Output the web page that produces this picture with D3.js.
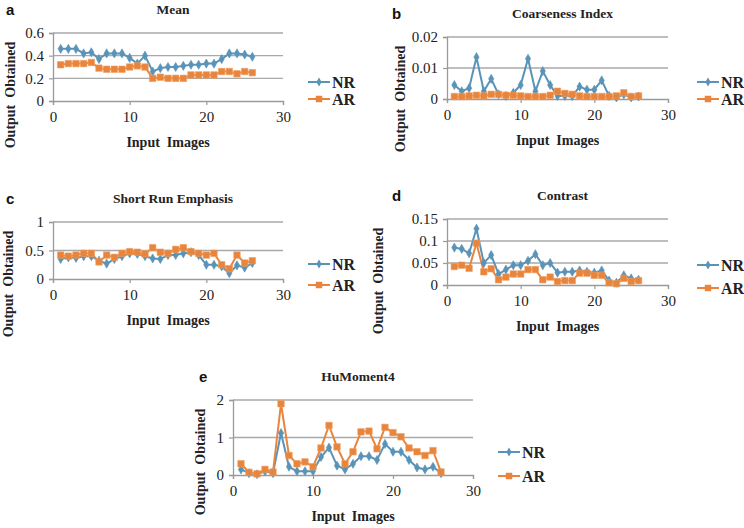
<!DOCTYPE html>
<html><head><meta charset="utf-8">
<script src="https://cdn.jsdelivr.net/npm/d3@7"></script>
<style>body{margin:0;background:#fff}svg{display:block}</style>
</head><body>
<svg id="chart" width="744" height="528"></svg>
<script>
const images = d3.range(1, 27);
const xTicks = [0, 10, 20, 30];

const meanNR = [0.46,0.46,0.46,0.42,0.43,0.37,0.42,0.42,0.42,0.38,0.33,0.40,0.26,0.29,0.30,0.30,0.31,0.32,0.32,0.33,0.33,0.37,0.42,0.42,0.41,0.39];
const meanAR = [0.32,0.33,0.33,0.33,0.34,0.29,0.28,0.28,0.28,0.30,0.31,0.30,0.20,0.21,0.20,0.20,0.20,0.23,0.23,0.23,0.23,0.26,0.26,0.24,0.26,0.25];
const meanTicks = [0, 0.2, 0.4, 0.6];

const coarseNR = [0.0045,0.0025,0.0035,0.0135,0.0025,0.0065,0.0015,0.001,0.002,0.0045,0.013,0.0025,0.009,0.0045,0.001,0.001,0.001,0.004,0.003,0.003,0.006,0.001,0.0005,0.0015,0.0005,0.0008];
const coarseAR = [0.0008,0.0008,0.001,0.0012,0.001,0.0015,0.0015,0.0012,0.0012,0.001,0.0008,0.0008,0.0008,0.0012,0.0025,0.0018,0.0015,0.001,0.0008,0.0008,0.0008,0.0008,0.001,0.002,0.0008,0.001];
const coarseTicks = [0, 0.01, 0.02];

const sreNR = [0.35,0.38,0.37,0.40,0.40,0.32,0.27,0.35,0.40,0.45,0.44,0.40,0.36,0.35,0.42,0.42,0.45,0.47,0.42,0.25,0.25,0.22,0.10,0.24,0.20,0.28];
const sreAR = [0.42,0.40,0.42,0.45,0.45,0.30,0.42,0.38,0.45,0.48,0.47,0.44,0.55,0.47,0.45,0.52,0.55,0.48,0.45,0.42,0.45,0.25,0.18,0.42,0.28,0.32];
const sreTicks = [0, 0.5, 1];

const contrastNR = [0.085,0.082,0.072,0.128,0.05,0.068,0.025,0.035,0.045,0.045,0.055,0.07,0.045,0.05,0.028,0.03,0.03,0.033,0.03,0.028,0.033,0.01,0.005,0.022,0.015,0.012];
const contrastAR = [0.042,0.045,0.038,0.095,0.03,0.037,0.012,0.018,0.025,0.025,0.035,0.035,0.012,0.018,0.008,0.01,0.01,0.027,0.027,0.022,0.022,0.005,0.003,0.015,0.008,0.01];
const contrastTicks = [0, 0.05, 0.1, 0.15];

const huNR = [0.15,0.05,0.02,0.10,0.05,1.12,0.22,0.10,0.10,0.10,0.48,0.73,0.25,0.15,0.30,0.50,0.50,0.40,0.83,0.62,0.62,0.40,0.20,0.15,0.22,0.05];
const huAR = [0.30,0.07,0.03,0.15,0.08,1.90,0.52,0.30,0.35,0.22,0.72,1.32,0.75,0.30,0.62,1.15,1.17,0.70,1.27,1.13,1.02,0.72,0.62,0.52,0.65,0.08];
const huTicks = [0, 1, 2];

const seriesNames = ["NR", "AR"];
const colors = {NR: "#5a93b8", AR: "#e8843c"};

const panels = [
  {letter:"a", title:"Mean", nr:meanNR, ar:meanAR, ticks:meanTicks,
   L:53, R:283, T:33, B:101, letterX:6, ylabX:10, legX:308, legY:[82,99]},
  {letter:"b", title:"Coarseness Index", nr:coarseNR, ar:coarseAR, ticks:coarseTicks,
   L:447, R:668, T:37, B:99, letterX:392, ylabX:400, legX:697, legY:[82,99]},
  {letter:"c", title:"Short Run Emphasis", nr:sreNR, ar:sreAR, ticks:sreTicks,
   L:53, R:283, T:222, B:279, letterX:6, ylabX:8, legX:308, legY:[264,285]},
  {letter:"d", title:"Contrast", nr:contrastNR, ar:contrastAR, ticks:contrastTicks,
   L:447, R:668, T:219, B:285, letterX:392, ylabX:378, legX:697, legY:[265,288]},
  {letter:"e", title:"HuMoment4", nr:huNR, ar:huAR, ticks:huTicks,
   L:233, R:473, T:400, B:475, letterX:199, ylabX:200, legX:498, legY:[452,476]}
];

const svg = d3.select("#chart");
const serif = "'Liberation Serif', 'Times New Roman', serif";

panels.forEach(p => {
  const g = svg.append("g");
  const x = d3.scaleLinear().domain([0, 30]).range([p.L, p.R]);
  const y = d3.scaleLinear().domain([0, d3.max(p.ticks)]).range([p.B, p.T]);

  // gridlines
  g.append("g").selectAll("line").data(p.ticks.slice(1)).join("line")
    .attr("x1", p.L).attr("x2", p.R).attr("y1", d => y(d)).attr("y2", d => y(d))
    .attr("stroke", "#a9a9a9").attr("stroke-width", 1.3);

  // axes
  const xa = g.append("g").attr("transform", `translate(0,${p.B})`)
    .call(d3.axisBottom(x).tickValues(xTicks).tickSize(4).tickPadding(6).tickFormat(d3.format("d")));
  const ya = g.append("g").attr("transform", `translate(${p.L},0)`)
    .call(d3.axisLeft(y).tickValues(p.ticks).tickSize(4).tickPadding(5).tickFormat(d => d === 0 ? "0" : String(+d.toFixed(3))));
  [xa, ya].forEach(a => {
    a.select(".domain").attr("stroke", "#9a9a9a").attr("stroke-width", 1.3);
    a.selectAll(".tick line").attr("stroke", "#9a9a9a").attr("stroke-width", 1.2);
    a.selectAll("text").attr("font-family", serif).attr("font-size", 15).attr("fill", "#222");
  });

  // title and letter
  g.append("text").attr("x", (p.L + p.R) / 2 + 5).attr("y", p.T - 19)
    .attr("text-anchor", "middle").attr("font-family", serif).attr("font-weight", "bold")
    .attr("font-size", 13.5).attr("fill", "#222").text(p.title);
  g.append("text").attr("x", p.letterX).attr("y", p.T - 18)
    .attr("font-family", "'Liberation Sans', Arial, sans-serif").attr("font-weight", "bold")
    .attr("font-size", 15).attr("fill", "#111").text(p.letter);

  // axis titles
  g.append("text").attr("x", (p.L + p.R) / 2).attr("y", p.B + 46)
    .attr("text-anchor", "middle").attr("font-family", serif).attr("font-weight", "bold")
    .attr("font-size", 14).attr("fill", "#222").attr("xml:space", "preserve").text("Input  Images");
  g.append("text").attr("transform", `translate(${p.ylabX + 5},${p.T + 62}) rotate(-90)`)
    .attr("text-anchor", "middle").attr("font-family", serif).attr("font-weight", "bold")
    .attr("font-size", 14).attr("fill", "#222").attr("xml:space", "preserve").text("Output  Obtained");

  // series
  const line = d3.line().x((d, i) => x(images[i])).y(d => y(d));
  const data = {NR: p.nr, AR: p.ar};
  ["NR", "AR"].forEach(name => {
    const vals = data[name];
    g.append("path").datum(vals).attr("d", line).attr("fill", "none")
      .attr("stroke", colors[name]).attr("stroke-width", 2);
  });
  // markers: draw AR squares then NR diamonds? keep order of series
  ["NR", "AR"].forEach(name => {
    const vals = data[name];
    const sym = name === "NR" ? d3.symbol(d3.symbolDiamond, 24) : d3.symbol(d3.symbolSquare, 42);
    g.append("g").selectAll("path").data(vals).join("path")
      .attr("transform", (d, i) => `translate(${x(images[i])},${y(d)})`)
      .attr("d", sym).attr("fill", colors[name]).attr("stroke", name === "AR" ? "#f0a060" : colors[name]).attr("stroke-width", 0.6);
  });

  // legend
  seriesNames.forEach((name, i) => {
    const ly = p.legY[i];
    g.append("line").attr("x1", p.legX).attr("x2", p.legX + 22).attr("y1", ly).attr("y2", ly)
      .attr("stroke", colors[name]).attr("stroke-width", 2);
    const sym = name === "NR" ? d3.symbol(d3.symbolDiamond, 24) : d3.symbol(d3.symbolSquare, 42);
    g.append("path").attr("transform", `translate(${p.legX + 11},${ly})`).attr("d", sym).attr("fill", colors[name]);
    g.append("text").attr("x", p.legX + 24).attr("y", ly + 5.5).attr("font-family", serif)
      .attr("font-weight", "bold").attr("font-size", 16).attr("fill", "#222").text(name);
  });
});
</script>
</body></html>
